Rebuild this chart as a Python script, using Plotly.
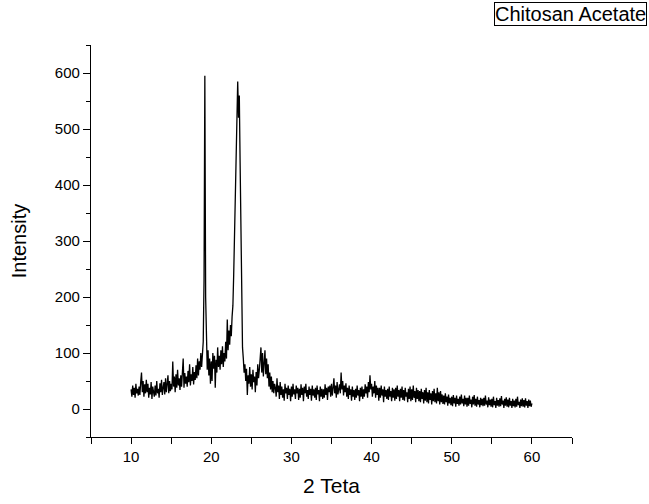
import numpy as np
import plotly.graph_objects as go

# Scan grid (2-theta, step 0.1 deg)
two_theta = np.round(np.arange(10.0, 60.0001, 0.1), 2)

# Intensity values, one block per 10 degrees
intensity_10_20 = [
    35, 22, 42, 25, 38, 20, 45, 28, 36, 24,
    40, 25, 48, 65, 30, 50, 22, 44, 28, 52,
    30, 45, 20, 38, 26, 48, 18, 40, 30, 22,
    42, 24, 50, 28, 36, 20, 46, 30, 52, 25,
    38, 48, 26, 55, 30, 44, 60, 28, 50, 32,
    45, 35, 85, 40, 58, 30, 62, 38, 70, 42,
    55, 34, 60, 40, 72, 90, 38, 64, 45, 58,
    40, 68, 48, 80, 42, 62, 50, 75, 44, 66,
    52, 78, 55, 90, 60, 85, 70, 100, 75, 115,
    120, 230, 595, 200, 95, 70, 105, 60, 90, 45,
]
intensity_20_30 = [
    85, 50, 100, 72, 95, 38, 88, 65, 110, 75,
    95, 70, 105, 80, 112, 75, 100, 85, 120, 90,
    160, 105, 140, 115, 150, 130, 165, 185, 240, 300,
    370, 460, 525, 585, 520, 560, 440, 300, 160, 110,
    90, 65, 80, 50, 72, 25, 60, 45, 75, 40,
    62, 35, 70, 48, 58, 30, 66, 42, 80, 55,
    70, 95, 110, 65, 100, 58, 85, 105, 62, 90,
    55, 80, 40, 65, 35, 58, 30, 50, 28, 45,
    38, 22, 55, 30, 42, 18, 48, 25, 40, 20,
    35, 15, 45, 28, 38, 18, 42, 25, 36, 14,
]
intensity_30_40 = [
    40, 22, 45, 26, 35, 18, 42, 28, 38, 16,
    36, 20, 44, 25, 38, 14, 40, 28, 45, 22,
    34, 18, 40, 25, 36, 15, 42, 24, 35, 20,
    38, 16, 42, 26, 34, 14, 40, 22, 36, 18,
    35, 20, 44, 25, 38, 16, 40, 30, 42, 22,
    45, 24, 38, 55, 28, 42, 20, 48, 26, 40,
    44, 28, 65, 35, 50, 24, 42, 30, 46, 22,
    38, 18, 42, 25, 35, 15, 40, 22, 34, 16,
    36, 20, 42, 24, 34, 14, 38, 22, 40, 18,
    35, 22, 44, 28, 40, 20, 48, 30, 60, 35,
]
intensity_40_50 = [
    45, 22, 40, 28, 50, 20, 42, 25, 38, 15,
    38, 20, 42, 24, 35, 12, 40, 22, 34, 18,
    36, 16, 40, 22, 32, 14, 38, 20, 35, 15,
    38, 18, 42, 22, 34, 14, 36, 20, 40, 16,
    34, 15, 38, 22, 30, 12, 36, 18, 40, 14,
    35, 16, 42, 20, 32, 12, 38, 18, 34, 14,
    32, 12, 36, 18, 30, 10, 34, 15, 38, 12,
    30, 10, 34, 16, 28, 8, 32, 14, 36, 12,
    28, 10, 38, 14, 30, 8, 32, 12, 26, 9,
    24, 8, 28, 12, 22, 6, 26, 10, 20, 7,
]
intensity_50_60 = [
    22, 5, 25, 10, 20, 4, 24, 9, 18, 6,
    22, 8, 26, 10, 18, 5, 24, 8, 20, 4,
    20, 6, 24, 9, 17, 3, 22, 8, 25, 6,
    18, 4, 22, 8, 16, 3, 20, 7, 18, 5,
    20, 6, 24, 8, 15, 3, 21, 7, 17, 4,
    18, 3, 22, 7, 14, 2, 20, 6, 16, 4,
    19, 5, 23, 8, 15, 2, 18, 6, 21, 4,
    17, 3, 20, 6, 14, 2, 18, 5, 15, 3,
    18, 4, 22, 7, 13, 2, 17, 5, 19, 4,
    16, 3, 19, 6, 14, 2, 17, 5, 15, 4,
    10,
]
intensity = (intensity_10_20 + intensity_20_30 + intensity_30_40
             + intensity_40_50 + intensity_50_60)

series_name = "Chitosan Acetate"
x_title = "2 Teta"
y_title = "Intensity"

fig = go.Figure()
fig.add_trace(go.Scatter(
    x=two_theta, y=intensity, mode="lines", name=series_name,
    line=dict(color="black", width=1.3), showlegend=False,
))

font_family = "Liberation Sans, Arial, sans-serif"

fig.update_layout(
    width=649, height=504,
    margin=dict(l=91, r=77, t=45, b=67, autoexpand=False),
    paper_bgcolor="white", plot_bgcolor="white",
    font=dict(family=font_family, color="black", size=15),
    xaxis=dict(
        range=[5, 65], tick0=0, dtick=10, ticks="outside", ticklen=6,
        tickwidth=1.2, tickcolor="black", showline=True, linecolor="black",
        linewidth=1.3, showgrid=False, zeroline=False,
        minor=dict(dtick=5, ticks="outside", ticklen=6, tickwidth=1.2,
                   tickcolor="black", showgrid=False),
        tickfont=dict(size=15),
        title=dict(text=x_title, font=dict(size=21), standoff=14),
    ),
    yaxis=dict(
        range=[-50, 650], tick0=0, dtick=100, ticks="outside", ticklen=7,
        tickwidth=1.2, tickcolor="black", showline=True, linecolor="black",
        linewidth=1.3, showgrid=False, zeroline=False,
        minor=dict(dtick=50, ticks="outside", ticklen=4, tickwidth=1.2,
                   tickcolor="black", showgrid=False),
        tickfont=dict(size=15),
        title=dict(text=y_title, font=dict(size=20), standoff=22),
    ),
    annotations=[dict(
        text=series_name, xref="paper", yref="paper",
        x=(647 - 91) / 481, y=1 + 43 / 392, xanchor="right", yanchor="top",
        showarrow=False, font=dict(size=20), bordercolor="black",
        borderwidth=1, borderpad=0, bgcolor="white",
    )],
)

fig.write_html("out.html")
